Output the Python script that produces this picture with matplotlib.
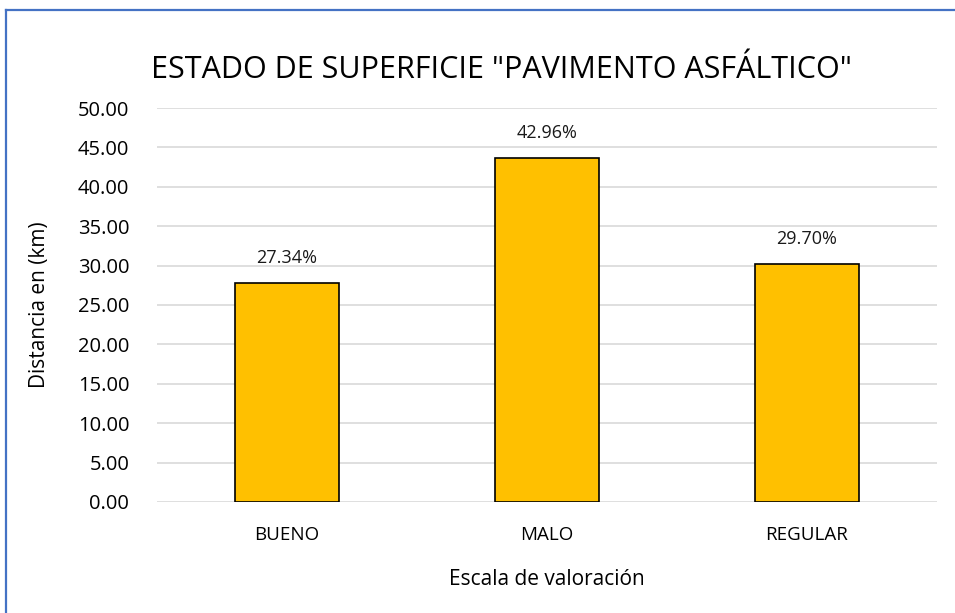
import numpy as np
import matplotlib
matplotlib.use("Agg")
import matplotlib.pyplot as plt
from matplotlib.lines import Line2D

categorias = ["BUENO", "MALO", "REGULAR"]
distancia_km = [27.75, 43.60, 30.14]
etiquetas = ["27.34%", "42.96%", "29.70%"]
ticks_y = [0, 5, 10, 15, 20, 25, 30, 35, 40, 45, 50]

plt.rcParams['font.family'] = ['Open Sans', 'DejaVu Sans']

fig = plt.figure(figsize=(9.55, 6.13), dpi=100)
ax = fig.add_axes([0.1644, 0.1811, 0.8168, 0.6427])

x = np.arange(len(categorias))
bars = ax.bar(x, distancia_km, width=0.4, color='#FFC000', edgecolor='black',
              linewidth=1.2, zorder=3)

for b, txt in zip(bars, etiquetas):
    ax.annotate(txt, (b.get_x() + b.get_width() / 2, b.get_height()),
                xytext=(0, 18), textcoords='offset points',
                ha='center', va='center', fontsize=13, color='#1a1a1a')

ax.set_xlim(-0.5, 2.5)
ax.set_ylim(0, 50)
ax.set_yticks(ticks_y)
ax.set_yticklabels([f"{v:.2f}" for v in ticks_y])
ax.set_xticks(x)
ax.set_xticklabels(categorias)
ax.tick_params(axis='y', length=0, labelsize=14.5, colors='black', pad=20)
ax.tick_params(axis='x', length=0, labelsize=13.5, colors='black', pad=17)
ax.grid(axis='y', color='#D9D9D9', linewidth=1.2, zorder=0)
for s in ax.spines.values():
    s.set_visible(False)

ax.set_ylabel("Distancia en (km)", fontsize=15, labelpad=20)
ax.set_xlabel("Escala de valoración", fontsize=15, labelpad=18)
fig.text(0.525, 0.885, 'ESTADO DE SUPERFICIE "PAVIMENTO ASFÁLTICO"',
         ha='center', va='center', fontsize=22)

# blue frame only on top and left, as in the source
fig.add_artist(Line2D([0.0063, 1.0], [0.9837, 0.9837], transform=fig.transFigure,
                      color='#4472C4', linewidth=1.6))
fig.add_artist(Line2D([0.0063, 0.0063], [0.0, 0.9837], transform=fig.transFigure,
                      color='#4472C4', linewidth=1.6))

fig.savefig("out.png", dpi=100)
